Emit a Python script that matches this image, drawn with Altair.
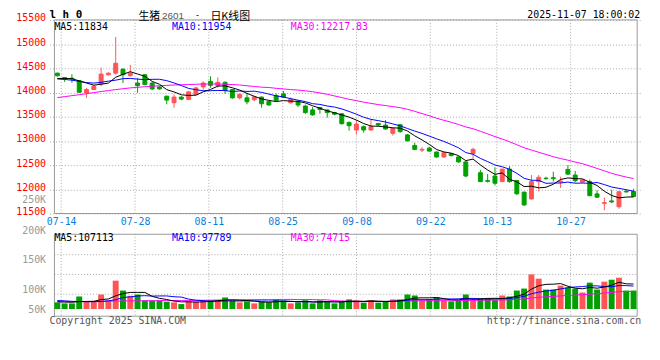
import altair as alt
import pandas as pd

# ---------------- data ----------------
date_labels = ["07-14", "07-28", "08-11", "08-25", "09-08", "09-22", "10-13", "10-27"]
date_index = [1, 11, 21, 31, 41, 51, 60, 70]

opens = [14400, 14310, 14295, 14245, 13993, 14062, 14176, 14367, 14400, 14481,
         14347, 14196, 14367, 14196, 14115, 13925, 13789, 13905, 13858, 13960,
         14115, 14231, 14143, 14210, 14062, 13890, 13890, 13850, 13905, 13813,
         13935, 13972, 13790, 13810, 13721, 13640, 13690, 13640, 13585, 13560,
         13382, 13226, 13294, 13226, 13360, 13328, 13157, 13334, 13124, 12906,
         12810, 12851, 12770, 12668, 12737, 12668, 12566, 12737, 12342, 12180,
         12275, 12159, 12417, 12180, 11942, 11800, 12159, 12230, 12240, 12150,
         12410, 12295, 12150, 12159, 11905, 11710, 11760, 11640, 11960, 11955]
highs = [14410, 14320, 14380, 14250, 14094, 14160, 14516, 14415, 15148, 14500,
         14571, 14298, 14380, 14210, 14130, 13925, 13960, 13925, 14030, 14115,
         14230, 14333, 14312, 14230, 14070, 13980, 13980, 13930, 13920, 13830,
         13980, 14030, 13900, 13840, 13750, 13700, 13700, 13650, 13600, 13570,
         13400, 13430, 13320, 13430, 13370, 13430, 13270, 13340, 13144, 12961,
         12870, 12880, 12780, 12770, 12750, 12680, 12580, 12860, 12400, 12315,
         12455, 12430, 12480, 12190, 11950, 12295, 12295, 12260, 12363, 12260,
         12500, 12380, 12200, 12200, 11980, 11833, 11990, 11960, 11990, 12010]
lows = [14330, 14220, 14200, 13995, 13890, 14050, 14129, 14350, 14367, 14196,
        14330, 13993, 14150, 14050, 14060, 13756, 13687, 13840, 13840, 13950,
        14060, 14100, 14100, 13972, 13870, 13860, 13756, 13820, 13687, 13730,
        13820, 13890, 13770, 13700, 13560, 13520, 13560, 13483, 13530, 13340,
        13212, 13130, 13170, 13210, 13310, 13230, 13110, 13170, 12988, 12810,
        12770, 12780, 12650, 12650, 12680, 12550, 12248, 12640, 12150, 12140,
        12080, 12150, 12140, 11880, 11660, 11790, 11955, 12200, 12160, 12030,
        12295, 12140, 12140, 11860, 11820, 11567, 11715, 11600, 11940, 11840]
closes = [14347, 14285, 14280, 14005, 14062, 14129, 14380, 14400, 14604, 14367,
          14400, 14143, 14163, 14074, 14074, 13844, 13905, 13864, 14013, 14094,
          14196, 14149, 14210, 14041, 13890, 13960, 13809, 13910, 13768, 13742,
          13837, 13905, 13860, 13742, 13585, 13538, 13650, 13585, 13552, 13355,
          13314, 13348, 13226, 13294, 13328, 13247, 13259, 13192, 13002, 12825,
          12825, 12790, 12668, 12757, 12696, 12566, 12275, 12825, 12159, 12165,
          12126, 12417, 12159, 11908, 11677, 12159, 12248, 12220, 12220, 12170,
          12315, 12180, 12193, 11868, 11837, 11725, 11740, 11950, 11945, 11853]
volumes = [28400, 24100, 24100, 53800, 31300, 31300, 62200, 36800, 121500, 79200,
           56700, 62200, 36800, 36800, 36800, 31300, 28400, 21200, 36800, 31300,
           36800, 36800, 36800, 49500, 36800, 28400, 31300, 24100, 31300, 28400,
           41100, 36800, 24100, 28400, 36800, 24100, 36800, 31300, 24100, 33900,
           41100, 36800, 27100, 36800, 27100, 32600, 41100, 41100, 62200, 58000,
           36800, 41100, 49500, 36800, 32600, 36800, 62200, 38100, 45300, 45300,
           38100, 58000, 53800, 79200, 87600, 148200, 130000, 83400, 83400, 100300,
           91900, 87600, 70700, 113000, 83400, 117300, 125700, 134200, 79200, 79200]

# moving-average values before enough history is on screen
ma5_head = [14290, 14290, 14285, 14240]
ma10_head = [14280, 14270, 14255, 14230, 14205, 14195, 14210, 14235, 14255]
ma30_head = [13895, 13915, 13935, 13955, 13975, 13998, 14020, 14040, 14060, 14078,
             14095, 14108, 14120, 14130, 14140, 14148, 14155, 14160, 14165, 14170,
             14175, 14176, 14175, 14170, 14165, 14155, 14140, 14125, 14110]
vma5_head = [31000, 30000, 29000, 32000]
vma10_head = [36500, 35000, 33000, 32000, 31500, 31500, 32500, 35000, 40000]
vma30_head = [31500, 31700, 32000, 32200, 32500, 32700, 33000, 33500, 34000, 34500,
              35000, 35200, 35500, 35700, 36000, 36200, 36500, 36700, 37000, 37200,
              37500, 38000, 38500, 38700, 39000, 39400, 39800, 40200, 40500]


def moving(series, n, head):
    out = list(head)
    for i in range(len(head), len(series)):
        out.append(sum(series[i - n + 1:i + 1]) / n)
    return out


n = len(closes)
df = pd.DataFrame({
    "idx": list(range(n)),
    "open": opens, "high": highs, "low": lows, "close": closes, "vol": volumes,
    "dir": ["up" if c >= o else "down" for o, c in zip(opens, closes)],
    "ma5": moving(closes, 5, ma5_head),
    "ma10": moving(closes, 10, ma10_head),
    "ma30": moving(closes, 30, ma30_head),
    "vma5": moving(volumes, 5, vma5_head),
    "vma10": moving(volumes, 10, vma10_head),
    "vma30": moving(volumes, 30, vma30_head),
})

# ---------------- styling / layout constants ----------------
MONO = "DejaVu Sans Mono"
CJK = "Noto Sans CJK SC"
RED = "#ff5555"
GREEN = "#00a000"
GRID = "#aaaaaa"
FRAME = "#999999"

X_LO, X_HI = -0.4, 79.5
tick_vals = [round(0.532 + (k - 1) * 7.6 / 7.509, 3) for k in date_index]
x_expr = "''"
for v, lab in reversed(list(zip(tick_vals, date_labels))):
    x_expr = f"abs(datum.value - {v}) < 0.5 ? '{lab}' : ({x_expr})"

x_scale = alt.Scale(domain=[X_LO, X_HI], nice=False, zero=False)
x_axis = alt.Axis(values=tick_vals, labelExpr=x_expr, title=None, domain=False,
                  ticks=False, grid=False, labelColor="#0a80dc", labelFont=MONO,
                  labelFontSize=10, labelPadding=3, offset=-104,
                  labelFlush=False, labelOverlap=False)

p_scale = alt.Scale(domain=[11500, 15500], range=[196, 0], nice=False, zero=False)
p_axis = alt.Axis(values=list(range(11500, 15501, 500)), format="d", title=None,
                  domain=False, ticks=False, grid=True, gridColor=GRID, gridDash=[1, 2],
                  labelColor="#ff0000", labelFont=MONO, labelFontSize=10,
                  labelPadding=4, labelOffset=-2, labelFlush=False, labelOverlap=False)

# volume panel: bars stand on page y 310.7, ~4234 lots per pixel
VOL_PER_PX = 4234
BAR_BASE = 310.7
PLOT_TOP = 18


def vol_at(page_y):
    return (BAR_BASE - page_y) * VOL_PER_PX


VOL_LO, VOL_HI = vol_at(318), vol_at(190)
v_scale = alt.Scale(domain=[VOL_LO, VOL_HI], range=[318 - PLOT_TOP, 190 - PLOT_TOP],
                    nice=False, zero=False)
vol_label_text = ["250K", "200K", "150K", "100K", "50K"]
vol_label_vals = [round(vol_at(y)) for y in [200, 231, 261, 291, 311]]
v_expr = "''"
for v, lab in reversed(list(zip(vol_label_vals, vol_label_text))):
    v_expr = f"abs(datum.value - {v}) < 1000 ? '{lab}' : ({v_expr})"
v_axis = alt.Axis(orient="left", values=vol_label_vals, labelExpr=v_expr, title=None,
                  domain=False, ticks=False, grid=False, labelColor="#999999",
                  labelFont=MONO, labelFontSize=10, labelPadding=4,
                  labelFlush=False, labelOverlap=False)

dir_scale = alt.Scale(domain=["up", "down"], range=[RED, GREEN])


def X(field="idx"):
    return alt.X(f"{field}:Q", scale=x_scale, axis=x_axis)


def YP(field):
    return alt.Y(f"{field}:Q", scale=p_scale, axis=p_axis)


def YV(field):
    return alt.Y(f"{field}:Q", scale=v_scale, axis=v_axis)


one = pd.DataFrame({"k": [0]})
gdf = pd.DataFrame({"gx": tick_vals})
vgy = pd.DataFrame({"gy": [vol_at(255.7), vol_at(275.7), vol_at(295.7)]})

# ---------------- price panel ----------------
p_vgrid = alt.Chart(gdf).mark_rule(color=GRID, strokeDash=[1, 2], strokeWidth=1).encode(
    x=X("gx"), y=alt.YDatum(15500, scale=p_scale, axis=p_axis), y2=alt.Y2Datum(11500))
p_frame = alt.Chart(one).mark_rect(fillOpacity=0, stroke=FRAME, strokeWidth=1).encode(
    x=alt.XDatum(X_LO, scale=x_scale, axis=x_axis), x2=alt.X2Datum(X_HI),
    y=alt.YDatum(15500, scale=p_scale, axis=p_axis), y2=alt.Y2Datum(11500))
wicks = alt.Chart(df).mark_rule(strokeWidth=1).encode(
    x=X(), y=YP("low"), y2="high:Q",
    color=alt.Color("dir:N", scale=dir_scale, legend=None))
bodies = alt.Chart(df).mark_bar(size=4, strokeWidth=1).encode(
    x=X(), y=YP("open"), y2="close:Q",
    fill=alt.Fill("dir:N", scale=dir_scale, legend=None),
    stroke=alt.Stroke("dir:N", scale=dir_scale, legend=None))
ma5 = alt.Chart(df).mark_line(color="#000000", strokeWidth=1).encode(x=X(), y=YP("ma5"))
ma10 = alt.Chart(df).mark_line(color="#0000ff", strokeWidth=1).encode(x=X(), y=YP("ma10"))
ma30 = alt.Chart(df).mark_line(color="#ff00ff", strokeWidth=1).encode(x=X(), y=YP("ma30"))
price = alt.layer(p_vgrid, p_frame, wicks, bodies, ma30, ma10, ma5)

# ---------------- volume panel ----------------
v_vgrid = alt.Chart(gdf).mark_rule(color=GRID, strokeDash=[1, 2], strokeWidth=1).encode(
    x=X("gx"), y=alt.YDatum(vol_at(235), scale=v_scale, axis=v_axis), y2=alt.Y2Datum(VOL_LO))
v_hgrid = alt.Chart(vgy).mark_rule(color=GRID, strokeDash=[1, 2], strokeWidth=1).encode(
    x=alt.XDatum(X_LO, scale=x_scale, axis=x_axis), x2=alt.X2Datum(X_HI), y=YV("gy"))
v_frame = alt.Chart(one).mark_rect(fillOpacity=0, stroke=FRAME, strokeWidth=1).encode(
    x=alt.XDatum(X_LO, scale=x_scale, axis=x_axis), x2=alt.X2Datum(X_HI),
    y=alt.YDatum(vol_at(235), scale=v_scale, axis=v_axis), y2=alt.Y2Datum(VOL_LO))
vbars = alt.Chart(df).mark_bar(size=6).encode(
    x=X(), y=YV("vol"), y2=alt.Y2Datum(0),
    fill=alt.Fill("dir:N", scale=dir_scale, legend=None))
vma5 = alt.Chart(df).mark_line(color="#000000", strokeWidth=1).encode(x=X(), y=YV("vma5"))
vma10 = alt.Chart(df).mark_line(color="#0000ff", strokeWidth=1).encode(x=X(), y=YV("vma10"))
vma30 = alt.Chart(df).mark_line(color="#ff00ff", strokeWidth=1).encode(x=X(), y=YV("vma30"))
volume = alt.layer(v_vgrid, v_hgrid, v_frame, vbars, vma30, vma10, vma5)


# ---------------- texts ----------------
def txt(t, x, y, color="#000000", size=10, font=MONO, align="left", weight="normal"):
    return alt.Chart(one).mark_text(align=align, baseline="middle", font=font,
                                    fontSize=size, fontWeight=weight, color=color).encode(
        x=alt.value(x), y=alt.value(y), text=alt.value(t))


texts = [
    txt("l h 0", 0, -5, size=11, weight="bold"),
    txt("生猪", 90, -3, size=11, font=CJK),
    txt("2601", 114, -3.5, color="#555555", size=10, font="Liberation Sans"),
    txt("-", 147, -4.5, size=9, font=MONO),
    txt("日K线图", 163, -3, size=11, font=CJK),
    txt("2025-11-07 18:00:02", 598, -5, align="right"),
    txt("MA5:11834", 5, 7),
    txt("MA10:11954", 124, 7, color="#0000ff"),
    txt("MA30:12217.83", 244.3, 7, color="#ff00ff"),
    txt("MA5:107113", 5, 220.5),
    txt("MA10:97789", 124, 220.5, color="#0000ff"),
    txt("MA30:74715", 244.3, 220.5, color="#ff00ff"),
    txt("Copyright 2025 SINA.COM", 0, 305.3, color="#555555"),
    txt("http://finance.sina.com.cn", 599, 305.3, color="#555555", align="right"),
]

chart = alt.layer(price, volume, *texts).resolve_scale(y="independent").properties(
    width=600, height=300, autosize="none",
    padding={"left": 42, "top": 10, "right": 10, "bottom": 22},
    background="#ffffff",
).configure_view(strokeWidth=0)

chart.save("out.html", embed_options={"renderer": "svg", "actions": False})
